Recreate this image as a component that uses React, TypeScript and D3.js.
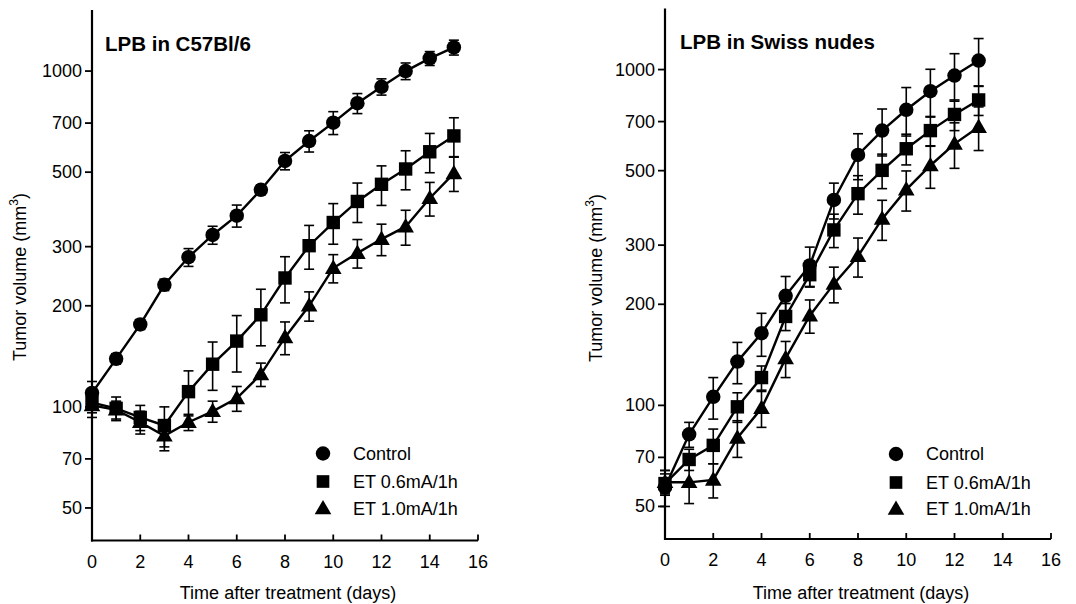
import React from 'react';
import * as d3 from 'd3';

const xTicks = [0, 2, 4, 6, 8, 10, 12, 14, 16];
const yTicks = [50, 70, 100, 200, 300, 500, 700, 1000];
const seriesNames = ['Control', 'ET 0.6mA/1h', 'ET 1.0mA/1h'];

const daysLeft = [0, 1, 2, 3, 4, 5, 6, 7, 8, 9, 10, 11, 12, 13, 14, 15];
const leftControl = [110, 139, 176, 231, 279, 325, 371, 443, 540, 619, 702, 802, 898, 1000, 1091, 1176];
const leftControlErr = [9, 5, 6, 9, 17, 20, 28, 15, 32, 45, 55, 55, 50, 57, 52, 60];
const leftLow = [103, 99, 93, 88, 111, 134, 157, 188, 242, 302, 354, 409, 460, 511, 575, 641];
const leftLowErr = [7, 8, 8, 12, 17, 22, 30, 36, 38, 45, 49, 55, 62, 68, 77, 85];
const leftHigh = [101, 98, 90, 82, 90, 97, 106, 125, 161, 200, 259, 287, 316, 344, 418, 496];
const leftHighErr = [8, 6, 7, 8, 5, 7, 9, 10, 18, 20, 25, 28, 34, 41, 48, 58];

const daysRight = [0, 1, 2, 3, 4, 5, 6, 7, 8, 9, 10, 11, 12, 13];
const rightControl = [57, 82, 106, 135, 164, 212, 261, 409, 557, 658, 759, 862, 960, 1064];
const rightControlErr = [7, 7, 15, 19, 24, 30, 35, 50, 87, 105, 125, 140, 155, 173];
const rightLow = [58.5, 69, 76, 99, 121, 184, 245, 333, 427, 501, 581, 658, 735, 812];
const rightLowErr = [4, 5, 9, 10, 10, 17, 20, 38, 56, 59, 61, 67, 77, 82];
const rightHigh = [59, 59, 60, 80, 98, 138, 185, 230, 278, 359, 439, 518, 601, 674];
const rightHighErr = [5, 8, 7, 10, 12, 17, 21, 28, 37, 49, 60, 75, 93, 100];

const FONT = '"Liberation Sans", Arial, Helvetica, sans-serif';

const symbolTypes = [d3.symbolCircle, d3.symbolSquare, d3.symbolTriangle];
const symbolSizes = [165, 180, 120];
const legendSizes = [165, 160, 120];

type Series = { values: number[]; errs: number[] };

function Panel(props: {
  x0: number; x1: number; yBottom: number; yTop: number;
  title: string; titleX: number; titleY: number;
  days: number[]; series: Series[];
  legendX: number; legendTextX: number; legendY: number[];
  yLabelX: number; yLabelY: number;
}) {
  const { x0, x1, yBottom, yTop, days, series } = props;
  const x = d3.scaleLinear().domain([0, 16]).range([x0, x1]);
  const y = d3.scaleLog().domain([40, 1520]).range([yBottom, yTop]);
  const line = d3.line<number>().x((_, i) => x(days[i])).y((v) => y(v));
  const cap = 5;
  return (
    <g fontFamily={FONT} fill="#000">
      <line x1={x0} y1={yTop} x2={x0} y2={yBottom + 1} stroke="#000" strokeWidth={2.2} />
      <line x1={x0 - 1} y1={yBottom} x2={x1} y2={yBottom} stroke="#000" strokeWidth={2.2} />
      {yTicks.map((t) => (
        <g key={'y' + t}>
          <line x1={x0 - 7} x2={x0} y1={y(t)} y2={y(t)} stroke="#000" strokeWidth={1.8} />
          <text x={x0 - 10} y={y(t)} textAnchor="end" dominantBaseline="central" fontSize={18}>{t}</text>
        </g>
      ))}
      {xTicks.map((t) => (
        <g key={'x' + t}>
          <line x1={x(t)} x2={x(t)} y1={yBottom} y2={yBottom - 6} stroke="#000" strokeWidth={1.8} />
          <text x={x(t)} y={yBottom + 27} textAnchor="middle" fontSize={18}>{t}</text>
        </g>
      ))}
      <text x={(x0 + x1) / 2 + 3} y={599} textAnchor="middle" fontSize={18}>Time after treatment (days)</text>
      <text transform={`translate(${props.yLabelX},${props.yLabelY}) rotate(-90)`} textAnchor="middle" fontSize={18}>
        Tumor volume (mm<tspan fontSize={12} dy={-8}>3</tspan><tspan dy={8}>)</tspan>
      </text>
      <text x={props.titleX} y={props.titleY} fontSize={20.5} fontWeight="bold">{props.title}</text>
      {series.map((s, si) => (
        <path key={'l' + si} d={line(s.values) || ''} fill="none" stroke="#000" strokeWidth={2.4} />
      ))}
      {series.map((s, si) => (
        <g key={'e' + si} stroke="#000" strokeWidth={1.6}>
          {s.values.map((v, i) => {
            const cx = x(days[i]);
            const yt = y(v + s.errs[i]);
            const yb = y(Math.max(v - s.errs[i], 1));
            return (
              <g key={i}>
                <line x1={cx} x2={cx} y1={yt} y2={yb} />
                <line x1={cx - cap} x2={cx + cap} y1={yt} y2={yt} />
                <line x1={cx - cap} x2={cx + cap} y1={yb} y2={yb} />
              </g>
            );
          })}
        </g>
      ))}
      {series.map((s, si) => {
        const sym = d3.symbol().type(symbolTypes[si]).size(symbolSizes[si])() || '';
        return (
          <g key={'m' + si}>
            {s.values.map((v, i) => (
              <path key={i} d={sym} transform={`translate(${x(days[i])},${y(v) + (si === 2 ? 1 : 0)})`} fill="#000" />
            ))}
          </g>
        );
      })}
      {seriesNames.map((n, i) => (
        <g key={'lg' + i}>
          <path d={d3.symbol().type(symbolTypes[i]).size(legendSizes[i])() || ''} transform={`translate(${props.legendX},${props.legendY[i] + (i === 2 ? 1 : 0)})`} fill="#000" />
          <text x={props.legendTextX} y={props.legendY[i]} dominantBaseline="central" fontSize={18}>{n}</text>
        </g>
      ))}
    </g>
  );
}

export default function App() {
  const leftSeries: Series[] = [
    { values: leftControl, errs: leftControlErr },
    { values: leftLow, errs: leftLowErr },
    { values: leftHigh, errs: leftHighErr },
  ];
  const rightSeries: Series[] = [
    { values: rightControl, errs: rightControlErr },
    { values: rightLow, errs: rightLowErr },
    { values: rightHigh, errs: rightHighErr },
  ];
  return (
    <svg width={1076} height={604} style={{ position: 'absolute', left: 0, top: 0, background: '#fff' }}>
      <rect width={1076} height={604} fill="#fff" />
      <Panel x0={92} x1={478} yBottom={540.5} yTop={10} title="LPB in C57Bl/6" titleX={105} titleY={50.5}
        days={daysLeft} series={leftSeries} legendX={323} legendTextX={353} legendY={[453.5, 481.5, 508.5]}
        yLabelX={26} yLabelY={277} />
      <Panel x0={665} x1={1051} yBottom={539} yTop={8.5} title="LPB in Swiss nudes" titleX={680} titleY={48.5}
        days={daysRight} series={rightSeries} legendX={896} legendTextX={926} legendY={[454, 482.5, 509]}
        yLabelX={602} yLabelY={278} />
    </svg>
  );
}
